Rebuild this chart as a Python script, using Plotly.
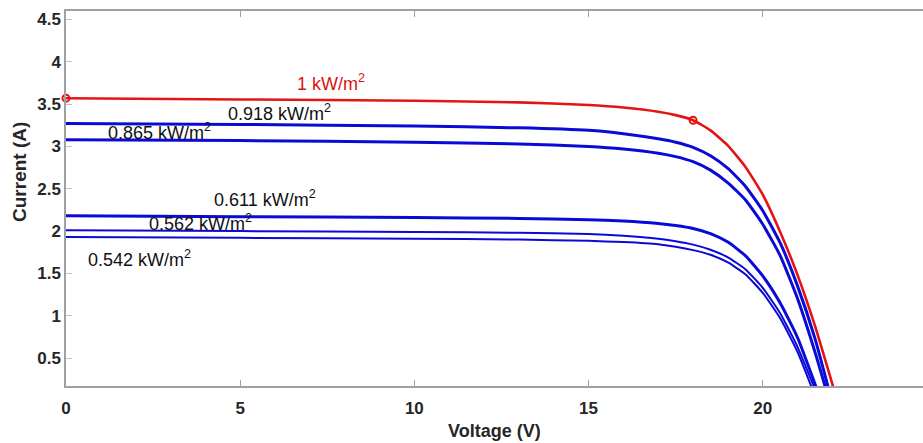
import plotly.graph_objects as go

# Voltage samples (V) and currents (A)
v_red = [0, 5, 10, 13, 15, 16, 17, 17.5, 18, 18.5, 19, 19.5, 20, 20.5, 21, 21.5, 22.05]
i_red = [3.57, 3.555, 3.54, 3.52, 3.49, 3.46, 3.41, 3.37, 3.31, 3.19, 3.01, 2.76, 2.43, 1.99, 1.48, 0.88, 0.12]

v_918 = [0, 5, 10, 13, 15, 16, 17, 17.5, 18, 18.5, 19, 19.5, 20, 20.5, 21, 21.5, 21.9]
i_918 = [3.27, 3.26, 3.24, 3.22, 3.19, 3.15, 3.09, 3.05, 2.99, 2.89, 2.74, 2.53, 2.24, 1.86, 1.35, 0.73, 0.12]

v_865 = [0, 5, 10, 13, 15, 16, 17, 17.5, 18, 18.5, 19, 19.5, 20, 20.5, 21, 21.5, 21.85]
i_865 = [3.08, 3.07, 3.05, 3.03, 3.0, 2.97, 2.92, 2.88, 2.82, 2.72, 2.57, 2.37, 2.08, 1.71, 1.2, 0.57, 0.08]

v_611 = [0, 5, 10, 13, 15, 16, 17, 17.5, 18, 18.5, 19, 19.5, 20, 20.5, 21, 21.6]
i_611 = [2.18, 2.17, 2.16, 2.15, 2.135, 2.12, 2.09, 2.065, 2.03, 1.97, 1.87, 1.71, 1.47, 1.15, 0.74, 0.08]

v_562 = [0, 5, 10, 13, 15, 16, 17, 17.5, 18, 18.5, 19, 19.5, 20, 20.5, 21, 21.5]
i_562 = [2.01, 2.0, 1.99, 1.98, 1.965, 1.945, 1.91, 1.88, 1.84, 1.78, 1.69, 1.55, 1.33, 1.03, 0.63, 0.13]

v_542 = [0, 5, 10, 13, 15, 16, 17, 17.5, 18, 18.5, 19, 19.5, 20, 20.5, 21, 21.5]
i_542 = [1.93, 1.92, 1.91, 1.90, 1.885, 1.87, 1.845, 1.815, 1.775, 1.72, 1.63, 1.49, 1.27, 0.97, 0.57, 0.05]

# Marked points on the 1 kW/m2 curve (Isc and MPP)
mark_v = [0, 18]
mark_i = [3.57, 3.31]

x_ticks = [0, 5, 10, 15, 20]
y_ticks = [0.5, 1, 1.5, 2, 2.5, 3, 3.5, 4, 4.5]

labels = ["1 kW/m<sup>2</sup>", "0.918 kW/m<sup>2</sup>", "0.865 kW/m<sup>2</sup>",
          "0.611 kW/m<sup>2</sup>", "0.562 kW/m<sup>2</sup>", "0.542 kW/m<sup>2</sup>"]
label_x = [7.62, 6.13, 2.68, 5.70, 3.87, 2.11]
label_y = [3.76, 3.40, 3.18, 2.39, 2.10, 1.68]
label_col = ["#e01010", "#111111", "#111111", "#111111", "#111111", "#111111"]

RED = "#e41414"
BLUE = "#0a0ad6"

fig = go.Figure()
blue_sets = [(v_918, i_918, 3), (v_865, i_865, 3), (v_611, i_611, 3),
             (v_562, i_562, 2), (v_542, i_542, 2)]
for vv, ii, w in blue_sets:
    fig.add_trace(go.Scatter(x=vv, y=ii, mode="lines", line=dict(color=BLUE, width=w, shape="spline", smoothing=0.5),
                             showlegend=False, hoverinfo="skip"))
fig.add_trace(go.Scatter(x=v_red, y=i_red, mode="lines", line=dict(color=RED, width=2.6, shape="spline", smoothing=0.5),
                         showlegend=False))
fig.add_trace(go.Scatter(x=mark_v, y=mark_i, mode="markers",
                         marker=dict(symbol="circle-open", size=7, color=RED, line=dict(width=2, color=RED)),
                         showlegend=False, cliponaxis=False))

for t, x, y, c in zip(labels, label_x, label_y, label_col):
    fig.add_annotation(x=x, y=y, xref="x", yref="y", text=t, showarrow=False,
                       font=dict(family="Arial, Liberation Sans", size=18, color=c),
                       xanchor="center", yanchor="middle")

fig.add_annotation(x=0.5, y=-0.12, xref="paper", yref="paper", text="<b>Voltage (V)</b>",
                   showarrow=False, font=dict(family="Liberation Sans Narrow, Arial Narrow, Arial", size=18, color="#262626"),
                   xanchor="center", yanchor="middle")
fig.add_annotation(x=-0.054, y=0.57, xref="paper", yref="paper", text="<b>Current (A)</b>", textangle=-90,
                   showarrow=False, font=dict(family="Arial, Liberation Sans", size=19, color="#262626"),
                   xanchor="center", yanchor="middle")

fig.update_xaxes(range=[0, 24.6], tickvals=x_ticks, ticktext=[str(v) for v in x_ticks],
                 showline=True, linecolor="#a0a0a0", linewidth=1.5, mirror="ticks",
                 ticks="inside", ticklen=6, tickcolor="#a0a0a0", tickwidth=1,
                 showgrid=False, zeroline=False, ticklabelstandoff=6,
                 tickfont=dict(family="Liberation Sans Narrow, Arial Narrow, Arial", size=17, color="#262626", weight="bold"))
fig.update_yaxes(range=[0.17, 4.6], tickvals=y_ticks, ticktext=["0.5", "1", "1.5", "2", "2.5", "3", "3.5", "4", "4.5"],
                 showline=True, linecolor="#a0a0a0", linewidth=1.5, mirror=False,
                 ticks="inside", ticklen=6, tickcolor="#c0c0c0", tickwidth=1,
                 showgrid=False, zeroline=False,
                 tickfont=dict(family="Arial, Liberation Sans", size=17, color="#262626", weight="bold"))

fig.update_layout(width=923, height=443, margin=dict(l=66, r=0, t=11, b=57),
                  paper_bgcolor="white", plot_bgcolor="white")
fig.write_html("out.html", config={"displayModeBar": False},
               post_script="document.body.style.margin='0px';document.body.style.overflow='hidden';")
